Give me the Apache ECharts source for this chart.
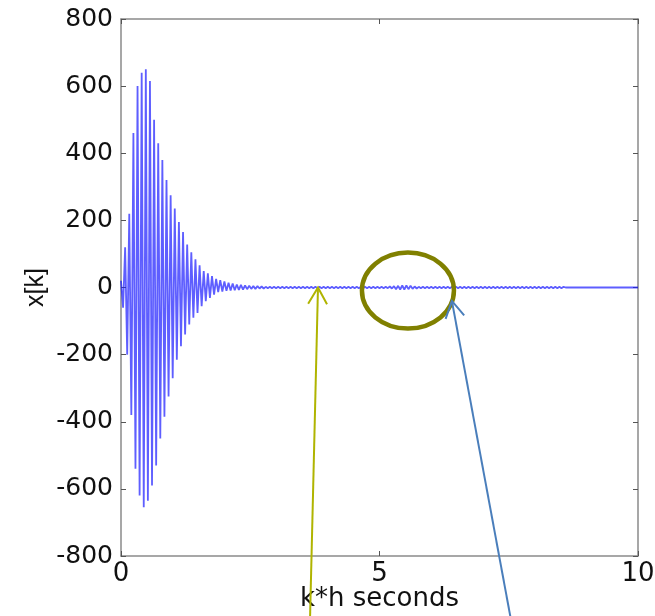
<!DOCTYPE html>
<html>
<head>
<meta charset="utf-8">
<script src="https://cdn.jsdelivr.net/npm/echarts@6/dist/echarts.min.js"></script>
<style>
  html, body { margin: 0; padding: 0; background: #fff; }
  #main { width: 655px; height: 616px; }
</style>
</head>
<body>
<div id="main"></div>
<script>
// sample period (seconds)
var h = 0.04;

// x[k], k = 0..69 : the big decaying burst
var xDecay = [
  20, -60, 120, -200, 220, -380, 460, -540, 600, -620,
  640, -655, 650, -635, 615, -590, 500, -530, 430, -450,
  380, -385, 320, -325, 275, -270, 235, -215, 195, -175,
  165, -140, 128, -110, 105, -90, 84, -76, 66, -56,
  49, -41, 42, -31, 34, -21, 26, -14, 22, -12,
  18, -10, 14, -9, 12, -8, 9, -7, 8, -6,
  6, -5, 5, -4, 4, -4, 4, -3, 3, -3
];

// small ripple afterwards, with the little bump near 5.5 s
var xTail = [
  2, -2, 2, -2, 2, -2, 2, -2, 2, -2,
  2, -2, 2, -2, 2, -2, 2, -2, 2, -2,
  2, -2, 2, -2, 2, -2, 2, -2, 2, -2,
  2, -2, 2, -2, 2, -2, 2, -2, 2, -2,
  2, -2, 2, -2, 2, -2, 2, -2, 2, -2,
  2, -2, 2, -2, 2, -2, 2, -2, 2, -2,
  3, -3, 4, -5, 5, -6, 6, -6, 6, -5,
  5, -4, 3, -3, 2,
  -2, 2, -2, 2, -2, 2, -2, 2, -2, 2,
  -2, 2, -2, 2, -2, 2, -2, 2, -2, 2,
  -2, 2, -2, 2, -2, 2, -2, 2, -2, 2,
  -2, 2, -2, 2, -2, 2, -2, 2, -2, 2,
  -2, 2, -2, 2, -2, 2, -2, 2, -2, 2,
  -2, 2, -2, 2, -2, 2, -2, 2, -2, 2,
  -2, 2, -2, 2, -2, 2, -2, 2, -2, 2
];

// flat zero until t = 10
var xFlat = [
  0, 0, 0, 0, 0, 0, 0, 0, 0, 0,
  0, 0, 0, 0, 0, 0, 0, 0, 0, 0,
  0, 0, 0, 0, 0, 0, 0, 0, 0, 0,
  0, 0, 0, 0, 0, 0
];

var xTicks = [0, 5, 10];
var yTicks = [-800, -600, -400, -200, 0, 200, 400, 600, 800];

var xk = xDecay.concat(xTail, xFlat);
var seriesData = [];
for (var k = 0; k < xk.length; k++) {
  seriesData.push([k * h, xk[k]]);
}

var chart = echarts.init(document.getElementById('main'));
var font = 'DejaVu Sans, sans-serif';
var boxLine = { show: true, onZero: false, lineStyle: { color: '#8a8a8a', width: 1.5 } };
var ticks = { show: true, inside: true, length: 5, lineStyle: { color: '#555', width: 1 } };

chart.setOption({
  animation: false,
  backgroundColor: '#fff',
  grid: { left: 121, right: 17, top: 19, bottom: 60, outerBoundsMode: 'none', containLabel: false },
  xAxis: [
    {
      type: 'value', min: xTicks[0], max: xTicks[2], interval: 5,
      name: 'k*h seconds', nameLocation: 'middle', nameGap: 30, nameMoveOverlap: false,
      nameTextStyle: { fontFamily: font, fontSize: 26, color: '#111' },
      axisLine: boxLine, axisTick: ticks,
      axisLabel: { fontFamily: font, fontSize: 26, color: '#111', margin: 5 },
      splitLine: { show: false }
    },
    {
      type: 'value', position: 'top', min: 0, max: 10, interval: 5,
      axisLine: boxLine, axisTick: ticks, axisLabel: { show: false },
      splitLine: { show: false }
    }
  ],
  yAxis: [
    {
      type: 'value', min: yTicks[0], max: yTicks[8], interval: 200,
      name: 'x[k]', nameLocation: 'middle', nameGap: 72, nameRotate: 90, nameMoveOverlap: false,
      nameTextStyle: { fontFamily: 'Liberation Sans, Arial, sans-serif', fontSize: 25, color: '#111' },
      axisLine: boxLine, axisTick: ticks,
      axisLabel: { fontFamily: font, fontSize: 25, color: '#111', margin: 8 },
      splitLine: { show: false }
    },
    {
      type: 'value', position: 'right', min: -800, max: 800, interval: 200,
      axisLine: boxLine, axisTick: ticks, axisLabel: { show: false },
      splitLine: { show: false }
    }
  ],
  series: [
    {
      type: 'line',
      data: seriesData,
      showSymbol: false,
      sampling: null,
      lineStyle: { color: '#1a1aff', width: 1.8, opacity: 0.7 }
    }
  ]
});

// annotations: ellipse round the small bump, two arrows from below
function px(p) { return chart.convertToPixel({ gridIndex: 0 }, p); }

function arrow(tip, tail, color) {
  var dx = tail[0] - tip[0], dy = tail[1] - tip[1];
  var len = Math.sqrt(dx * dx + dy * dy);
  var ux = dx / len, uy = dy / len;
  var a = 0.52, L = 19;
  var c = Math.cos(a), s = Math.sin(a);
  var l1 = [tip[0] + L * (ux * c - uy * s), tip[1] + L * (ux * s + uy * c)];
  var l2 = [tip[0] + L * (ux * c + uy * s), tip[1] + L * (-ux * s + uy * c)];
  var st = { stroke: color, lineWidth: 2, fill: null };
  return [
    { type: 'polyline', shape: { points: [tail, tip] }, style: st, z: 100 },
    { type: 'polyline', shape: { points: [l1, tip, l2] }, style: st, z: 100 }
  ];
}

var c0 = px([5.55, -9]);
var yTip = px([3.81, 0]);
var bTip = px([6.40, -40]);
var graphics = [
  {
    type: 'ellipse',
    shape: { cx: c0[0], cy: c0[1], rx: 46, ry: 38 },
    style: { stroke: '#808000', lineWidth: 4.5, fill: null },
    z: 100
  }
];
graphics = graphics.concat(arrow(yTip, [310, 620], '#b0b400'));
graphics = graphics.concat(arrow(bTip, [511, 620], '#4a7ebb'));
chart.setOption({ graphic: graphics });
</script>
</body>
</html>
